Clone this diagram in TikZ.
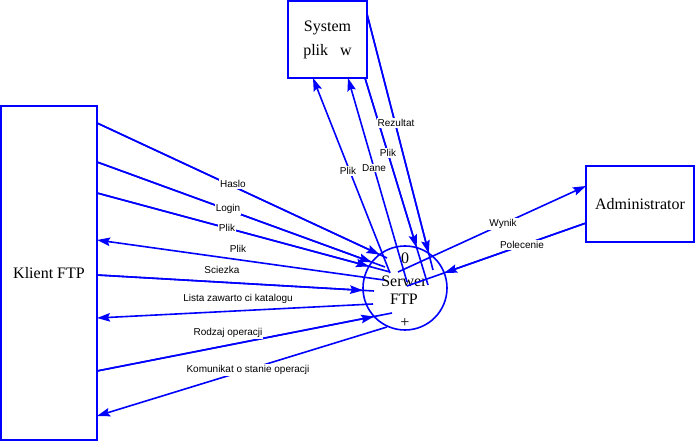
\documentclass[tikz,border=0pt]{standalone}
\usepackage{fontspec}
\setmainfont{Liberation Serif}
\newfontfamily\lblfont{Liberation Sans}
\usetikzlibrary{arrows.meta,intersections}
\definecolor{flow}{RGB}{0,0,255}
\begin{document}
\begin{tikzpicture}[x=1pt,y=-1pt,
  box/.style={draw=flow, line width=1.6pt, inner sep=0pt, font=\fontsize{16}{24}\selectfont, align=center},
  bigtext/.style={font=\fontsize{16}{18}\selectfont, inner sep=0pt, align=center},
  flowline/.style={draw=flow, line width=1.6pt},
  arrowin/.style={-{Stealth[length=13pt,width=8.5pt,inset=2pt]}},
  lbl/.style={fill=white, inner sep=1pt, font=\lblfont\fontsize{10}{12}\selectfont}]
\useasboundingbox (0,0) rectangle (696,443);

% boxes and process
\node[box, minimum width=96pt, minimum height=334pt] (klient) at (49,273) {Klient FTP};
\node[box, minimum width=79pt, minimum height=77pt] (system) at (327.5,39.5) {System\\plik\hspace{0.75em}w};
\node[box, minimum width=108pt, minimum height=76pt] (admin) at (640,204) {Administrator};
\node[draw=flow, line width=1.6pt, circle, minimum size=84pt, inner sep=0pt] (serwer) at (405,288) {};
\node[bigtext] (snum) at (405,258) {0};
\node[bigtext] (sname) at (404,290) {Serwer\\FTP};
\node[bigtext] (splus) at (405,323) {+};
\path[name path=c] (serwer.center) circle[radius=42pt];

% endpoints on the boxes
\coordinate (k1) at (97,123);
\coordinate (k2) at (97,162);
\coordinate (k3) at (97,193);
\coordinate (k4) at (97,240);
\coordinate (k5) at (97,275);
\coordinate (k6) at (97,318);
\coordinate (k7) at (97,371);
\coordinate (k8) at (97,416);
\coordinate (y1) at (313,78);
\coordinate (y2) at (348,78);
\coordinate (y3) at (365,78);
\coordinate (y4) at (367,14);
\coordinate (a1) at (586,186);
\coordinate (a2) at (586,223);
% endpoints inside the process
\coordinate (s1) at (387,258);
\coordinate (s2) at (385,267);
\coordinate (s3) at (390,272);
\coordinate (s4) at (384,280);
\coordinate (s5) at (374,291);
\coordinate (s6) at (373,304);
\coordinate (s7) at (392,313);
\coordinate (s8) at (387,327);
\coordinate (t1) at (390,273);
\coordinate (t2) at (407,282);
\coordinate (t3) at (428,285);
\coordinate (t4) at (433,270);
\coordinate (w1) at (398,272);
\coordinate (w2) at (407,286);

% flows into the process (arrowhead on the circle)
\foreach \a/\b/\n in {k1/s1/1, k2/s2/2, k3/s3/3, k5/s5/5, k7/s7/7, y3/t3/9, y4/t4/10, a2/w2/11} {
  \path[name path=p\n] (\a) -- (\b);
  \draw[flowline] (\a) -- (\b);
  \draw[flowline, arrowin, name intersections={of=c and p\n, by=x\n}] (\a) -- (x\n);
}

% flows out of the process (arrowhead on the box)
\foreach \a/\b in {s4/k4, s6/k6, s8/k8, t1/y1, t2/y2, w1/a1} {
  \draw[flowline, arrowin] (\a) -- (\b);
}

% labels
\node[lbl] (lrez) at (396,123) {Rezultat};
\node[lbl] (lplik1) at (388,153) {Plik};
\node[lbl] (ldane) at (374,168) {Dane};
\node[lbl] (lplik2) at (348,171) {Plik};
\node[lbl] (lhaslo) at (233,184) {Haslo};
\node[lbl] (llogin) at (228,209) {Login};
\node[lbl] (lplik3) at (227,228) {Plik};
\node[lbl] (lplik4) at (238,249) {Plik};
\node[lbl] (lsciezka) at (222,270) {Sciezka};
\node[lbl] (llista) at (238,299) {Lista zawarto ci katalogu};
\node[lbl] (lrodzaj) at (228,333) {Rodzaj operacji};
\node[lbl] (lkom) at (248,370) {Komunikat o stanie operacji};
\node[lbl] (lwynik) at (503,224) {Wynik};
\node[lbl] (lpol) at (522,245) {Polecenie};
\end{tikzpicture}
\end{document}
